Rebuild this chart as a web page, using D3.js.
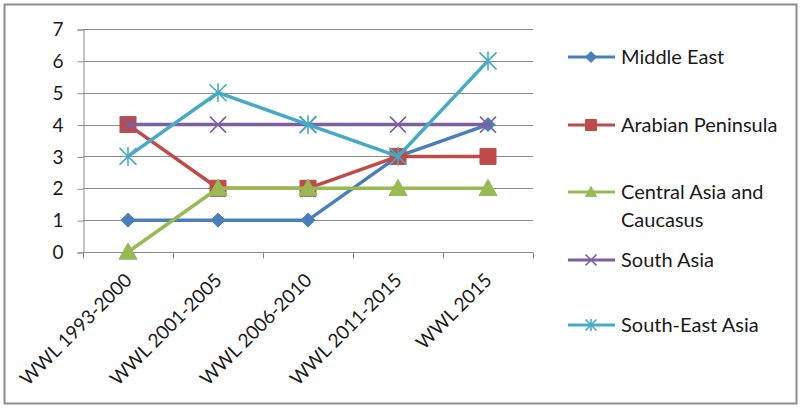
<!DOCTYPE html>
<html>
<head>
<meta charset="utf-8">
<script src="https://cdn.jsdelivr.net/npm/d3@7"></script>
<style>
  html, body { margin: 0; padding: 0; background: #fff; }
  svg { display: block; }
  text { font-family: Lato, "Open Sans", sans-serif; fill: #1a1a1a; }
</style>
</head>
<body>
<div id="chart"></div>
<script>
// Categories along the x axis
const categories = ["WWL 1993-2000", "WWL 2001-2005", "WWL 2006-2010", "WWL 2011-2015", "WWL 2015"];

// Series values, one per category
const middleEast       = [1, 1, 1, 3, 4];
const arabianPeninsula = [4, 2, 2, 3, 3];
const centralAsia      = [0, 2, 2, 2, 2];
const southAsia        = [4, 4, 4, 4, 4];
const southEastAsia    = [3, 5, 4, 3, 6];

const seriesNames = ["Middle East", "Arabian Peninsula", "Central Asia and Caucasus", "South Asia", "South-East Asia"];
const yTicks = [0, 1, 2, 3, 4, 5, 6, 7];

const series = [
  { name: seriesNames[0], values: middleEast,       color: "#4a7ebb", marker: "diamond" },
  { name: seriesNames[1], values: arabianPeninsula, color: "#be4b48", marker: "square" },
  { name: seriesNames[2], values: centralAsia,      color: "#98b954", marker: "triangle" },
  { name: seriesNames[3], values: southAsia,        color: "#7d60a0", marker: "x" },
  { name: seriesNames[4], values: southEastAsia,    color: "#46aac5", marker: "star" }
];

const W = 801, H = 408;
const svg = d3.select("#chart").append("svg").attr("width", W).attr("height", H);

// outer frame
svg.append("rect").attr("x", 4.5).attr("y", 4.5).attr("width", W - 9).attr("height", H - 9)
  .attr("fill", "#fff").attr("stroke", "#8c8c8c").attr("stroke-width", 2);

const plot = { left: 83, right: 533, top: 29, bottom: 252 };

const x = d3.scaleBand().domain(categories).range([plot.left, plot.right]);
const cx = c => x(c) + x.bandwidth() / 2;
const y = d3.scaleLinear().domain([0, 7]).range([plot.bottom, plot.top]);

// horizontal gridlines
svg.append("g").selectAll("line").data(yTicks.filter(t => t > 0)).join("line")
  .attr("x1", plot.left).attr("x2", plot.right)
  .attr("y1", d => Math.round(y(d)) + 0.5).attr("y2", d => Math.round(y(d)) + 0.5)
  .attr("stroke", "#8a8a8a").attr("stroke-width", 1);

// y axis
const yAxis = svg.append("g").attr("transform", `translate(${plot.left + 0.5},0.5)`)
  .call(d3.axisLeft(y).tickValues(yTicks).tickSize(6).tickPadding(14).tickFormat(d3.format("d")));
yAxis.select(".domain").attr("stroke", "#8a8a8a");
yAxis.selectAll(".tick line").attr("stroke", "#8a8a8a");
yAxis.selectAll("text").attr("font-size", 19).attr("fill", "#1a1a1a")
  .style("font-family", "Lato, 'Open Sans', sans-serif");

// x axis: ticks at category boundaries
const xAxisG = svg.append("g").attr("transform", `translate(0,${Math.round(plot.bottom) + 0.5})`);
xAxisG.append("line").attr("x1", plot.left).attr("x2", plot.right).attr("stroke", "#8a8a8a");
const boundaries = categories.map(c => x(c)).concat([x(categories[categories.length - 1]) + x.bandwidth()]);
xAxisG.selectAll("line.tk").data(boundaries).join("line").attr("class", "tk")
  .attr("x1", d => Math.round(d) + 0.5).attr("x2", d => Math.round(d) + 0.5)
  .attr("y1", 0).attr("y2", 6).attr("stroke", "#8a8a8a");

xAxisG.selectAll("text").data(categories).join("text")
  .attr("transform", d => `translate(${cx(d) + 5},${29}) rotate(-45)`)
  .attr("text-anchor", "end")
  .attr("font-size", 19).text(d => d);

// marker shapes
function markerPath(type, s) {
  const h = s / 2;
  switch (type) {
    case "diamond": return `M0,${-h}L${h},0L0,${h}L${-h},0Z`;
    case "square": return `M${-h},${-h}H${h}V${h}H${-h}Z`;
    case "triangle": return `M0,${-h}L${h},${h * 0.8}L${-h},${h * 0.8}Z`;
    case "x": return `M${-h},${-h}L${h},${h}M${h},${-h}L${-h},${h}`;
    case "star": return `M${-h},${-h}L${h},${h}M${h},${-h}L${-h},${h}M0,${-h * 1.1}V${h * 1.1}`;
  }
}
function drawMarker(g, type, color, s) {
  const filled = type === "diamond" || type === "square" || type === "triangle";
  g.append("path").attr("d", markerPath(type, s))
    .attr("fill", filled ? color : "none")
    .attr("stroke", color).attr("stroke-width", filled ? 1 : 1.6);
}

const line = d3.line().x((d, i) => cx(categories[i])).y(d => y(d));

series.forEach(s => {
  const g = svg.append("g");
  g.append("path").datum(s.values).attr("d", line)
    .attr("fill", "none").attr("stroke", s.color).attr("stroke-width", 3.5)
    .attr("stroke-linejoin", "round");
  s.values.forEach((v, i) => {
    const mg = g.append("g").attr("transform", `translate(${cx(categories[i])},${y(v)})`);
    const size = { diamond: 14, square: 16, triangle: 18, x: 16, star: 17 }[s.marker];
    drawMarker(mg, s.marker, s.color, size);
  });
});

// legend
const legendRows = [
  { lines: ["Middle East"], y: 57 },
  { lines: ["Arabian Peninsula"], y: 125 },
  { lines: ["Central Asia and", "Caucasus"], y: 192 },
  { lines: ["South Asia"], y: 260 },
  { lines: ["South-East Asia"], y: 325 }
];
const legend = svg.append("g");
series.forEach((s, i) => {
  const r = legendRows[i];
  const g = legend.append("g").attr("transform", `translate(568,${r.y})`);
  g.append("line").attr("x1", 0).attr("x2", 47).attr("stroke", s.color).attr("stroke-width", 3);
  const mg = g.append("g").attr("transform", "translate(23,0)");
  drawMarker(mg, s.marker, s.color, 11);
  const t = g.append("text").attr("font-size", 20);
  r.lines.forEach((ln, k) => t.append("tspan").attr("x", 53).attr("dy", k === 0 ? "0.35em" : "1.4em").text(ln));
});
</script>
</body>
</html>
